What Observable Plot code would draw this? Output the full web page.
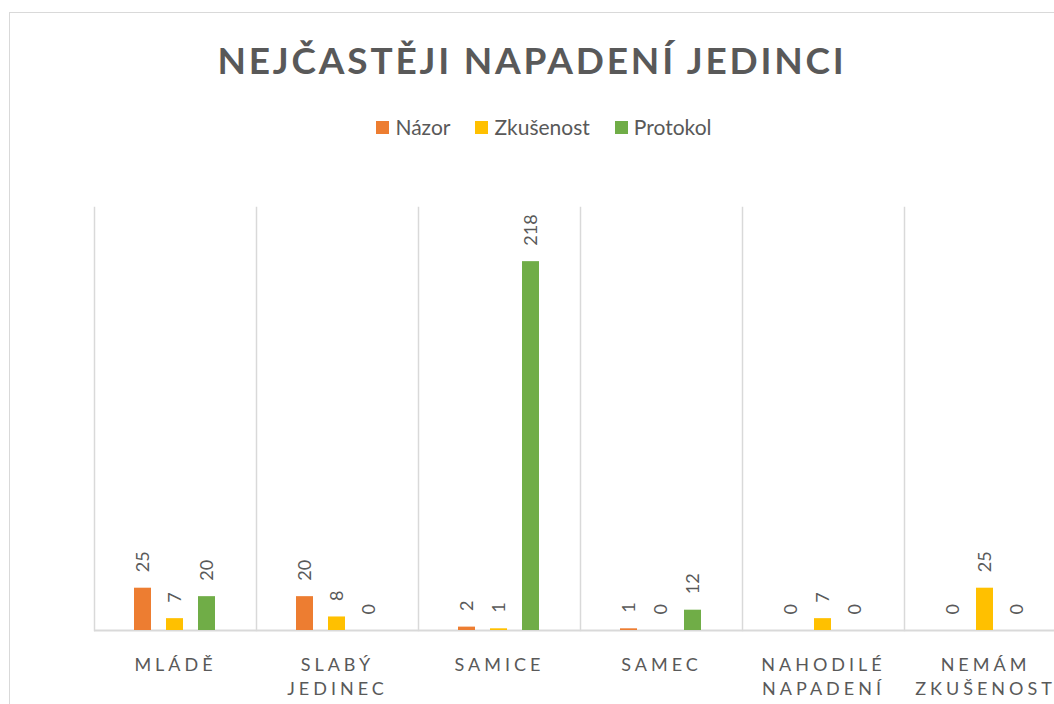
<!DOCTYPE html>
<html>
<head>
<meta charset="utf-8">
<script src="https://cdn.jsdelivr.net/npm/d3@7"></script>
<script src="https://cdn.jsdelivr.net/npm/@observablehq/plot@0.6"></script>
<style>
  html, body { margin: 0; padding: 0; background: #fff; overflow: hidden; }
  body { width: 1054px; height: 704px; position: relative; font-family: Lato, "Open Sans", sans-serif; color: #595959; }
  #frame { position: absolute; left: 9px; top: 12px; width: 1200px; height: 800px; border: 1.5px solid #d9d9d9; box-sizing: border-box; }
  #title { position: absolute; left: 0; width: 1064px; top: 36px; text-align: center; font-weight: 700; font-size: 37px; letter-spacing: 2.8px; color: #595959; line-height: 48px; white-space: nowrap; }
  #legend { position: absolute; left: 0; width: 1088px; top: 113px; display: flex; justify-content: center; gap: 25px; font-size: 21px; color: #595959; line-height: 28px; }
  .item { display: flex; align-items: center; }
  .sw { width: 13px; height: 13px; margin-right: 6px; display: inline-block; }
  #chart { position: absolute; left: 0; top: 190px; }
</style>
</head>
<body>
<div id="frame"></div>
<div id="title">NEJČASTĚJI NAPADENÍ JEDINCI</div>
<div id="legend"></div>
<div id="chart"></div>
<script>
const categories = ["MLÁDĚ", "SLABÝ JEDINEC", "SAMICE", "SAMEC", "NAHODILÉ NAPADENÍ", "NEMÁM ZKUŠENOST"];
const categoryLabels = ["MLÁDĚ", "SLABÝ\nJEDINEC", "SAMICE", "SAMEC", "NAHODILÉ\nNAPADENÍ", "NEMÁM\nZKUŠENOST"];
const series = ["Názor", "Zkušenost", "Protokol"];
const nazor = [25, 20, 2, 1, 0, 0];
const zkusenost = [7, 8, 1, 0, 7, 25];
const protokol = [20, 0, 218, 12, 0, 0];
const colors = ["#ED7D31", "#FFC000", "#70AD47"];

const seriesValues = [nazor, zkusenost, protokol];
const data = [];
categories.forEach((c, i) => {
  series.forEach((s, j) => data.push({category: c, series: s, value: seriesValues[j][i]}));
});
const labelData = categories.map((c, i) => ({category: c, label: categoryLabels[i]}));

// legend (HTML)
const legend = document.getElementById("legend");
series.forEach((s, j) => {
  const it = document.createElement("div");
  it.className = "item";
  const sw = document.createElement("span");
  sw.className = "sw";
  sw.style.background = colors[j];
  it.appendChild(sw);
  it.appendChild(document.createTextNode(s));
  legend.appendChild(it);
});

const gray = "#595959";
const plot = Plot.plot({
  width: 1054,
  height: 514,
  marginLeft: 94,
  marginRight: -12,
  marginTop: 17,
  marginBottom: 74,
  style: {fontFamily: "Lato, 'Open Sans', sans-serif", background: "transparent", overflow: "visible"},
  fx: {domain: categories, padding: 0, axis: null},
  x: {domain: series, paddingInner: 15 / 33, paddingOuter: 1.182, align: 0.5, axis: null},
  y: {domain: [0, 250], axis: null},
  color: {domain: series, range: colors},
  marks: [
    Plot.frame({anchor: "left", stroke: "#d9d9d9", strokeWidth: 1.5}),
    Plot.ruleY([0], {stroke: "#d9d9d9", strokeWidth: 2}),
    Plot.barY(data, {fx: "category", x: "series", y: "value", fill: "series"}),
    Plot.text(data, {
      fx: "category", x: "series", y: "value", text: d => String(d.value),
      rotate: -90, textAnchor: "start", lineAnchor: "middle", dy: -16,
      fill: gray, fontSize: 18
    }),
    Plot.text(labelData, {
      fx: "category", text: "label", frameAnchor: "bottom", lineAnchor: "top",
      dy: 23, lineHeight: 1.36, fill: gray, fontSize: 18
    })
  ]
});
document.getElementById("chart").appendChild(plot);

// letter spacing on category labels
d3.select(plot).selectAll("text").filter(function () {
  const t = this.textContent.replace(/\s/g, "");
  return categories.some(c => c.replace(/\s/g, "") === t);
}).attr("letter-spacing", 4);
</script>
</body>
</html>
